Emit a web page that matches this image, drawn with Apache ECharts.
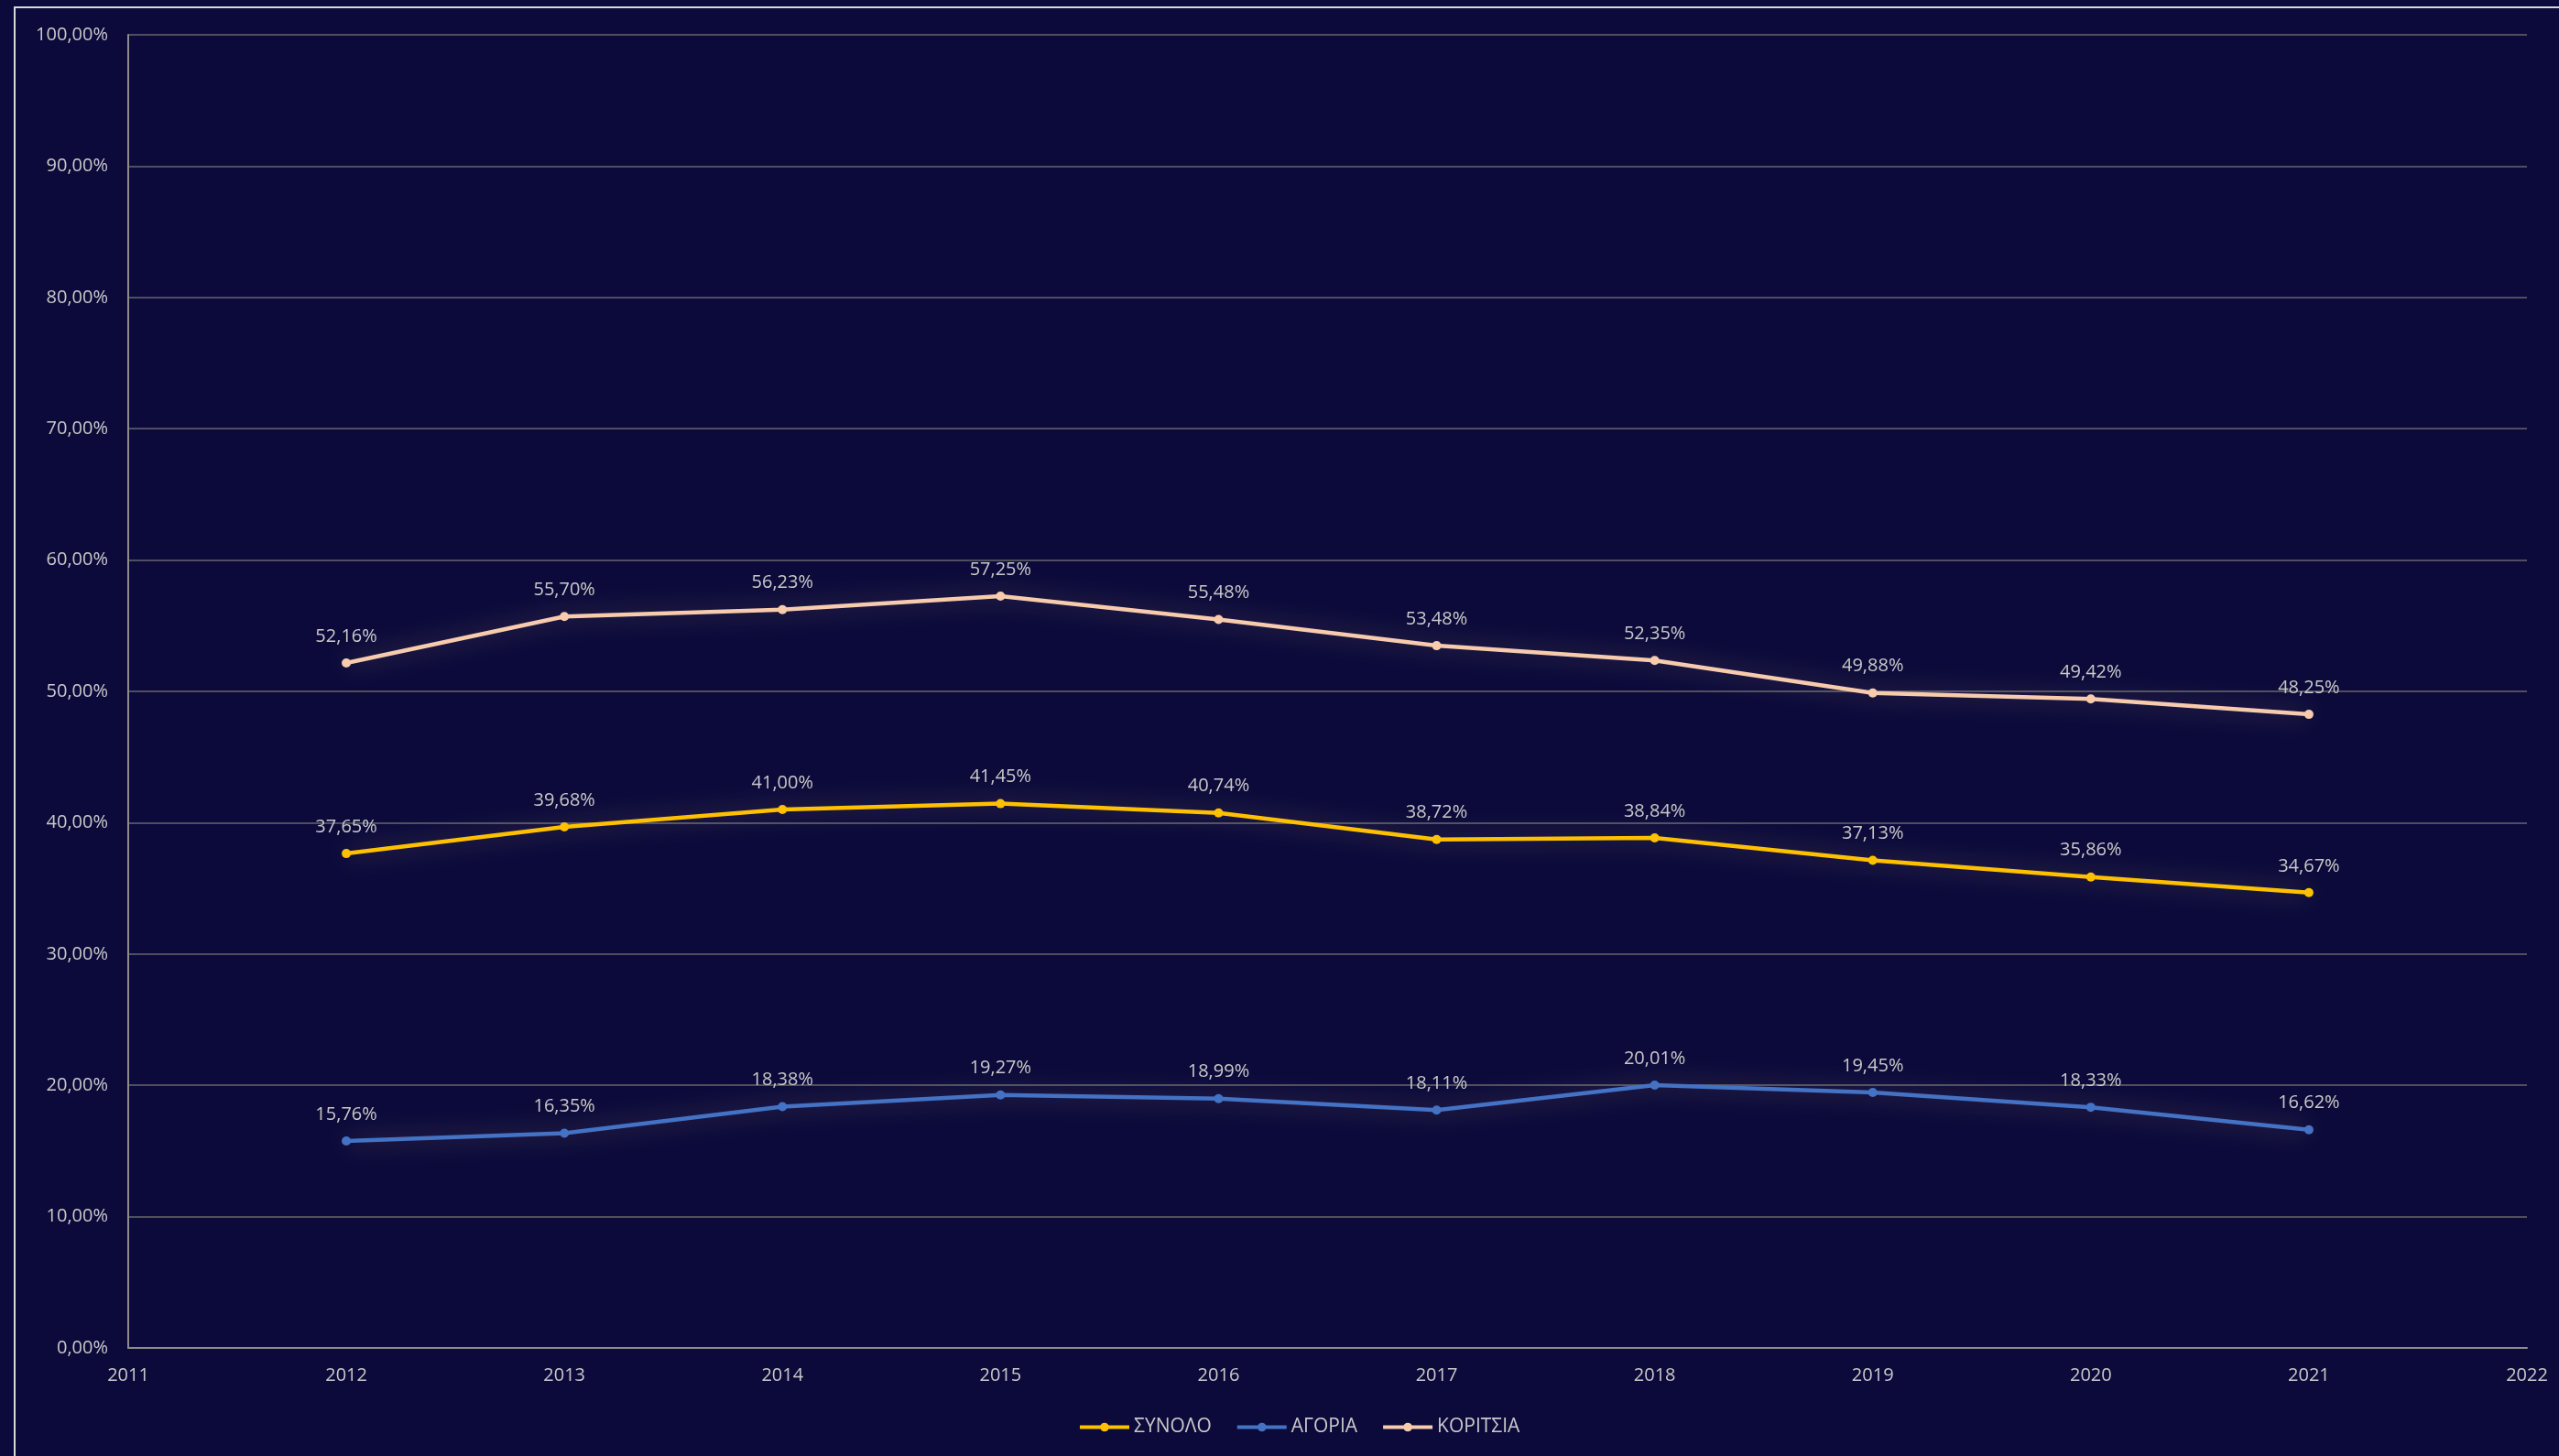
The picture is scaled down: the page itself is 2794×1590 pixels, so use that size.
<!DOCTYPE html>
<html>
<head>
<meta charset="utf-8">
<title>ΣΥΝΟΛΟ - ΑΓΟΡΙΑ - ΚΟΡΙΤΣΙΑ</title>
<script src="https://cdn.jsdelivr.net/npm/echarts@6/dist/echarts.min.js"></script>
<style>
    html, body { margin: 0; padding: 0; background: #0b0a3a; }
    #chart { width: 2794px; height: 1590px; }
</style>
</head>
<body>
<div id="chart"></div>
<script>
// Data
var years = [2012, 2013, 2014, 2015, 2016, 2017, 2018, 2019, 2020, 2021];
var synolo = [37.65, 39.68, 41.00, 41.45, 40.74, 38.72, 38.84, 37.13, 35.86, 34.67];
var agoria = [15.76, 16.35, 18.38, 19.27, 18.99, 18.11, 20.01, 19.45, 18.33, 16.62];
var koritsia = [52.16, 55.70, 56.23, 57.25, 55.48, 53.48, 52.35, 49.88, 49.42, 48.25];

var seriesNames = ['ΣΥΝΟΛΟ', 'ΑΓΟΡΙΑ', 'ΚΟΡΙΤΣΙΑ'];
var seriesColors = ['#ffc000', '#4472c4', '#f8cbad'];

var fmtPct = function(v) {
    return v.toFixed(2).replace('.', ',') + '%';
};

var pairs = function(vals) {
    return years.map(function(y, i) { return [y, vals[i]]; });
};

var makeSeries = function(name, vals, color) {
    return {
        name: name,
        type: 'line',
        data: pairs(vals),
        symbol: 'circle',
        symbolSize: 10,
        itemStyle: { color: color },
        lineStyle: {
            color: color,
            width: 4.5,
            shadowColor: 'rgba(255, 220, 160, 0.4)',
            shadowBlur: 28
        },
        label: {
            show: true,
            position: 'top',
            distance: 14,
            color: '#c9c9c9',
            fontSize: 20,
            fontFamily: 'Open Sans',
            formatter: function(p) { return fmtPct(p.value[1]); }
        },
        emphasis: { disabled: true },
        animation: false
    };
};

var chart = echarts.init(document.getElementById('chart'));

chart.setOption({
    backgroundColor: '#0b0a3a',
    textStyle: { fontFamily: 'Open Sans' },
    graphic: [{
        type: 'rect',
        shape: { x: 16, y: 8, width: 2900, height: 1700 },
        style: { fill: 'none', stroke: '#d9d9d9', lineWidth: 2 },
        silent: true
    }],
    grid: {
        left: 140,
        right: 35,
        top: 38,
        bottom: 118,
        containLabel: false
    },
    legend: {
        top: 1543,
        left: 1172,
        itemWidth: 54,
        itemHeight: 12,
        itemGap: 26,
        lineStyle: { width: 4 },
        textStyle: { color: '#c9c9c9', fontSize: 21, fontFamily: 'Open Sans' },
        data: seriesNames
    },
    xAxis: {
        type: 'value',
        min: 2011,
        max: 2022,
        interval: 1,
        axisLine: { show: true, lineStyle: { color: '#8c8c8c', width: 2 } },
        axisTick: { show: false },
        splitLine: { show: false },
        axisLabel: {
            color: '#c9c9c9',
            fontSize: 20,
            margin: 20,
            formatter: function(v) { return String(v); }
        }
    },
    yAxis: {
        type: 'value',
        min: 0,
        max: 100,
        interval: 10,
        axisLine: { show: true, lineStyle: { color: '#8c8c8c', width: 2 } },
        axisTick: { show: false },
        splitLine: { show: true, lineStyle: { color: '#4f4f5f', width: 2 } },
        axisLabel: {
            color: '#c9c9c9',
            fontSize: 20,
            margin: 22,
            formatter: function(v) { return fmtPct(v); }
        }
    },
    series: [
        makeSeries(seriesNames[0], synolo, seriesColors[0]),
        makeSeries(seriesNames[1], agoria, seriesColors[1]),
        makeSeries(seriesNames[2], koritsia, seriesColors[2])
    ]
});
</script>
</body>
</html>
